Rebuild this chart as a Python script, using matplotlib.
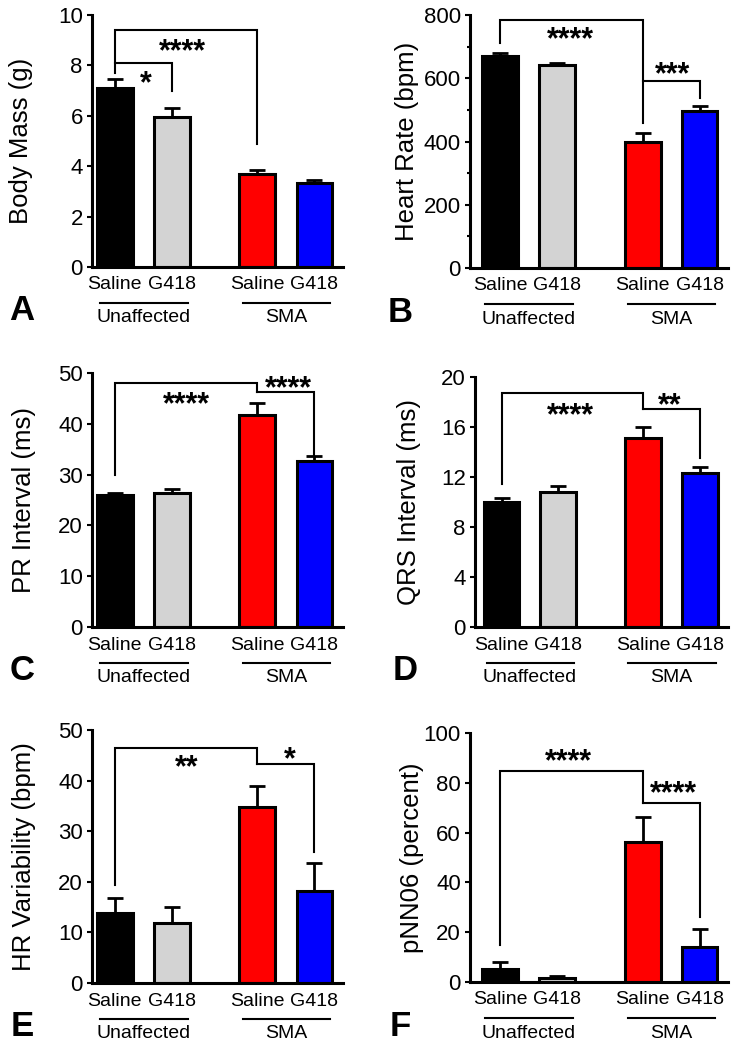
import numpy as np
import matplotlib
matplotlib.use("Agg")
import matplotlib.pyplot as plt

plt.rcParams['font.family'] = ['Liberation Sans', 'DejaVu Sans']

W, H = 738, 1050

positions = [0, 1, 2.5, 3.5]
bar_colors = ['black', '#d3d3d3', '#ff0000', '#0000ff']
bar_labels = ['Saline', 'G418', 'Saline', 'G418']
group_names = ['Unaffected', 'SMA']

# values (mean, upper SEM)
body_mass = [7.1, 5.95, 3.69, 3.33]
body_mass_err = [0.35, 0.35, 0.16, 0.12]
heart_rate = [671, 642, 399, 497]
heart_rate_err = [9, 7, 28, 16]
pr_interval = [26.0, 26.4, 41.7, 32.7]
pr_interval_err = [0.4, 0.8, 2.4, 1.0]
qrs_interval = [10.0, 10.8, 15.1, 12.3]
qrs_interval_err = [0.3, 0.5, 0.9, 0.5]
hr_var = [13.8, 11.9, 34.8, 18.2]
hr_var_err = [3.0, 3.1, 4.1, 5.5]
pnn06 = [5.2, 1.5, 56.2, 14.1]
pnn06_err = [2.8, 1.1, 10.1, 7.2]

# brackets: (bar i, bar j, height, leg end at i, leg end at j)
# stars: (text, x, y)
panels = [
    dict(letter='A', vals=body_mass, errs=body_mass_err, ymax=10, step=2, minor=None,
         ylabel='Body Mass (g)', rect=(92, 15, 343, 267), xleft=-0.40, ylab_x=-73,
         brackets=[(0, 2, 9.4, 7.7, 4.9), (0, 1, 8.1, 8.1, 7.0)],
         stars=[('****', 1.19, 8.73), ('*', 0.54, 7.46)]),
    dict(letter='B', vals=heart_rate, errs=heart_rate_err, ymax=800, step=200, minor=100,
         ylabel='Heart Rate (bpm)', rect=(470, 15, 728, 268), xleft=-0.53, ylab_x=-65,
         brackets=[(0, 2, 785, 712, 458), (2, 3, 590, 590, 537)],
         stars=[('****', 1.23, 737), ('***', 3.03, 626)]),
    dict(letter='C', vals=pr_interval, errs=pr_interval_err, ymax=50, step=10, minor=None,
         ylabel='PR Interval (ms)', rect=(92, 373, 343, 627), xleft=-0.40, ylab_x=-70,
         brackets=[(0, 2, 48, 30, 46.3), (2, 3, 46.3, 46.3, 33.9)],
         stars=[('****', 1.26, 44.7), ('****', 3.05, 47.9)]),
    dict(letter='D', vals=qrs_interval, errs=qrs_interval_err, ymax=20, step=4, minor=None,
         ylabel='QRS Interval (ms)', rect=(475, 377, 728, 627), xleft=-0.47, ylab_x=-68,
         brackets=[(0, 2, 18.7, 11.4, 17.4), (2, 3, 17.4, 17.4, 13.5)],
         stars=[('****', 1.22, 17.3), ('**', 2.97, 18.1)]),
    dict(letter='E', vals=hr_var, errs=hr_var_err, ymax=50, step=10, minor=None,
         ylabel='HR Variability (bpm)', rect=(92, 730, 343, 983), xleft=-0.40, ylab_x=-70,
         brackets=[(0, 2, 46.4, 19.4, 43.3), (2, 3, 43.3, 43.3, 25.9)],
         stars=[('**', 1.26, 43.5), ('*', 3.07, 45)]),
    dict(letter='F', vals=pnn06, errs=pnn06_err, ymax=100, step=20, minor=None,
         ylabel='pNN06 (percent)', rect=(470, 733, 728, 982), xleft=-0.53, ylab_x=-60,
         brackets=[(0, 2, 84.8, 15, 72), (2, 3, 72, 72, 26)],
         stars=[('****', 1.19, 90.4), ('****', 3.04, 77.5)]),
]

fig = plt.figure(figsize=(W / 100, H / 100), dpi=100)

for p in panels:
    x0, y0, x1, y1 = p['rect']
    ax = fig.add_axes([x0 / W, 1 - y1 / H, (x1 - x0) / W, (y1 - y0) / H])
    ax_h = y1 - y0

    ax.bar(positions, p['vals'], width=0.63, color=bar_colors,
           edgecolor='black', linewidth=2.2, zorder=2)
    ax.errorbar(positions, p['vals'], yerr=[np.zeros(4), p['errs']], fmt='none',
                ecolor='black', elinewidth=2, capsize=6, capthick=2, zorder=1)

    for i, j, h, li, lj in p['brackets']:
        xi, xj = positions[i], positions[j]
        ax.plot([xi, xi, xj, xj], [li, h, h, lj], color='black', lw=1.5,
                clip_on=False, solid_joinstyle='miter', zorder=3)
    for s, sx, sy in p['stars']:
        ax.annotate(s, xy=(sx, sy), xytext=(0, -0.43 * 22), textcoords='offset points',
                    ha='center', va='baseline', fontsize=22, fontweight='bold',
                    annotation_clip=False)

    ax.set_xlim(p['xleft'], 4.0)
    ax.set_ylim(0, p['ymax'])
    ax.set_yticks(np.arange(0, p['ymax'] + 1e-9, p['step']))
    if p['minor']:
        ax.set_yticks(np.arange(p['minor'], p['ymax'], p['step']), minor=True)
        ax.tick_params(axis='y', which='minor', direction='out', length=2.5, width=1.5)
    ax.set_xticks([])
    ax.tick_params(axis='y', which='major', direction='out', length=3.6, width=1.5,
                   labelsize=16, pad=3)
    for side in ['top', 'right']:
        ax.spines[side].set_visible(False)
    for side in ['left', 'bottom']:
        ax.spines[side].set_linewidth(2.2)

    ax.set_ylabel(p['ylabel'], fontsize=18.5)
    ax.yaxis.set_label_coords((p['ylab_x'] + 14) / (x1 - x0), 0.5)

    trans = ax.get_xaxis_transform()
    for xp, lab in zip(positions, bar_labels):
        ax.annotate(lab, xy=(xp, 0), xycoords=trans, xytext=(0, -18 * 0.72),
                    textcoords='offset points', ha='center', va='center',
                    fontsize=14, annotation_clip=False)
    for g, name in enumerate(group_names):
        a, b = positions[2 * g], positions[2 * g + 1]
        ax.plot([a - 0.26, b + 0.28], [-36 / ax_h] * 2, transform=trans,
                color='black', lw=1.5, clip_on=False)
        ax.annotate(name, xy=((a + b) / 2, 0), xycoords=trans, xytext=(0, -51 * 0.72),
                    textcoords='offset points', ha='center', va='center',
                    fontsize=14, annotation_clip=False)

    fig.text((x0 - 70) / W, 1 - (y1 + 44) / H, p['letter'], fontsize=25,
             fontweight='bold', ha='center', va='center')

fig.savefig('out.png', dpi=100)
